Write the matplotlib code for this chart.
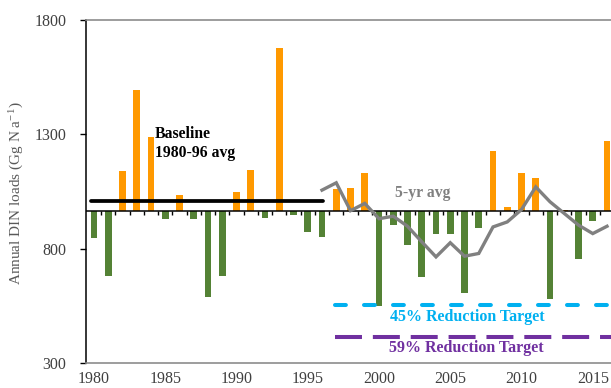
import matplotlib
matplotlib.use("Agg")
import matplotlib.pyplot as plt
import numpy as np

# Annual dissolved inorganic nitrogen loads (Gg N per year)
years = np.arange(1980, 2017)
din_loads = [845, 680, 1140, 1495, 1288, 928, 1033, 930, 589, 680,
             1046, 1146, 933, 1676, 946, 873, 849, 1063, 1065, 1129,
             550, 903, 818, 677, 862, 866, 608, 892, 1228, 983,
             1129, 1107, 579, 971, 755, 920, 1272]

# Five-year running average, 1996 onward
avg_years = np.arange(1996, 2017)
avg_loads = [1056, 1088, 966, 998, 931, 942, 898, 830, 764, 826,
             767, 779, 895, 917, 971, 1070, 1005, 954, 903, 866, 898]

axis_cross = 965          # value where the category axis crosses
baseline = 1010           # 1980-96 average load
baseline_span = [1980, 1996]
target_start = 1997
reductions = [0.45, 0.59]
target_labels = ["45% Reduction Target", "59% Reduction Target"]
target_colors = ["#00B0F0", "#7030A0"]

y_ticks = [300, 800, 1300, 1800]
x_labels = [1980, 1985, 1990, 1995, 2000, 2005, 2010, 2015]

orange = "#FF9900"
green = "#548235"

plt.rcParams["font.family"] = ["Liberation Serif", "DejaVu Serif"]
plt.rcParams["mathtext.fontset"] = "stix"

fig = plt.figure(figsize=(6.11, 3.88), dpi=100)
ax = fig.add_axes([86 / 611, 1 - 363 / 388, (611 - 86) / 611, (363 - 20) / 388])

# Bars drawn up or down from the axis crossing value
vals = np.array(din_loads, dtype=float)
heights = vals - axis_cross
colors = [orange if h > 0 else green for h in heights]
ax.bar(years, heights, bottom=axis_cross, width=0.47, color=colors, zorder=2)

# Category axis at the crossing value with small tick marks
ax.axhline(axis_cross, color="black", lw=1.1, zorder=3)
tick_len = 17
ax.vlines(years + 0.5, axis_cross - tick_len, axis_cross, color="black", lw=1.0, zorder=3)

# Baseline average
ax.hlines(baseline, baseline_span[0] - 0.2, baseline_span[1] + 0.05, color="black",
          lw=2.7, capstyle="round", zorder=4)
ax.text(baseline_span[0] + 4.28, 1262, "Baseline\n1980-96 avg", ha="left", va="center",
        fontsize=11.3, fontweight="bold", color="black", linespacing=1.25)

# Five-year average
ax.plot(avg_years, avg_loads, color="#808080", lw=2.4, zorder=5, solid_joinstyle="miter")
ax.text(2003.1, 1043, "5-yr avg", ha="center", va="center", fontsize=11.3,
        fontweight="bold", color="#808080")

# Reduction targets
x_end = years[-1] + 1
t45 = baseline * (1 - reductions[0])
t59 = baseline * (1 - reductions[1])
ax.plot([target_start - 0.1, x_end], [t45, t45], color=target_colors[0], lw=2.9,
        linestyle=(0, (2.7, 4.5)), dash_capstyle="round", zorder=4)
ax.plot([target_start - 0.1, x_end], [t59, t59], color=target_colors[1], lw=2.9,
        linestyle=(0, (6.7, 2.7)), dash_capstyle="butt", zorder=4)
ax.text(2006.18, t45 - 54, target_labels[0], ha="center", va="center", fontsize=11.5,
        fontweight="bold", color=target_colors[0])
ax.text(2006.15, t59 - 50, target_labels[1], ha="center", va="center", fontsize=11.5,
        fontweight="bold", color=target_colors[1])

# Axes styling
ax.set_xlim(1979.44, 2016.28)
ax.set_ylim(300, 1800)
ax.set_yticks(y_ticks)
ax.set_xticks(x_labels)
ax.tick_params(axis="y", direction="out", length=4, width=1, colors="black",
               labelcolor="#404040", labelsize=11.5, pad=10)
ax.tick_params(axis="x", length=0, labelcolor="#404040", labelsize=11.5, pad=6)
ax.spines["right"].set_visible(False)
ax.spines["left"].set_color("black")
ax.spines["left"].set_linewidth(1.1)
ax.spines["top"].set_color("#8c8c8c")
ax.spines["top"].set_linewidth(1.2)
ax.spines["bottom"].set_color("#8c8c8c")
ax.spines["bottom"].set_linewidth(1.2)

ax.set_ylabel("Annual DIN loads (Gg N a$^{\\mathregular{-1}}$)", fontsize=11, color="#595959")
ax.yaxis.set_label_coords(-0.116, 0.495)

fig.savefig("out.png", dpi=100)
